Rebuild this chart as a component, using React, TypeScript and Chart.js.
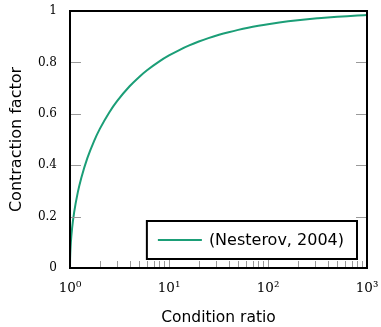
import React, { useEffect, useRef } from "react";
import { Chart, registerables } from "chart.js";

Chart.register(...registerables);

// Data
const conditionRatio = [1, 1.002, 1.005, 1.01, 1.02, 1.05, 1.1, 1.2, 1.3, 1.5, 1.75, 2, 2.5, 3, 4, 5, 6, 8, 10, 13, 16, 20, 25, 32, 40, 50, 63, 80, 100, 130, 160, 200, 250, 320, 400, 500, 630, 800, 1000];
const contractionFactor = [0, 0.0316, 0.05, 0.0704, 0.0993, 0.1552, 0.2157, 0.2952, 0.3506, 0.4284, 0.494, 0.5412, 0.6063, 0.6501, 0.7071, 0.7435, 0.7693, 0.804, 0.8269, 0.8501, 0.866, 0.8811, 0.8944, 0.9073, 0.9175, 0.9266, 0.9349, 0.9424, 0.9487, 0.9551, 0.9597, 0.964, 0.9679, 0.9716, 0.9747, 0.9774, 0.9799, 0.9822, 0.9841];
const seriesLabel = "(Nesterov, 2004)";

const xTickValues = [1, 10, 100, 1000];
const xTickLabels = ["10\u2070", "10\u00B9", "10\u00B2", "10\u00B3"];
const xMinorMultipliers = [2, 3, 4, 5, 6, 7, 8, 9];
const yTickValues = [0, 0.2, 0.4, 0.6, 0.8, 1];
const yTickLabels = ["0", "0.2", "0.4", "0.6", "0.8", "1"];

const LINE_COLOR = "#1b9e77";
const SERIF = "'DejaVu Serif', serif";
const SANS = "'DejaVu Sans', sans-serif";

const framePlugin = {
  id: "framePlugin",
  afterDatasetsDraw(chart: any) {
    const { ctx, chartArea } = chart;
    const { left, right, top, bottom } = chartArea;
    const xs = chart.scales.x;
    const ys = chart.scales.y;
    ctx.save();
    ctx.strokeStyle = "#9a9a9a";
    ctx.lineWidth = 1;
    ctx.beginPath();
    for (let d = 0; d < xTickValues.length - 1; d++) {
      for (const m of xMinorMultipliers) {
        const px = Math.round(xs.getPixelForValue(xTickValues[d] * m)) + 0.5;
        ctx.moveTo(px, bottom);
        ctx.lineTo(px, bottom - 7);
      }
    }
    for (let i = 1; i < xTickValues.length - 1; i++) {
      const px = Math.round(xs.getPixelForValue(xTickValues[i])) + 0.5;
      ctx.moveTo(px, bottom);
      ctx.lineTo(px, bottom - 10);
    }
    for (let i = 1; i < yTickValues.length - 1; i++) {
      const py = Math.round(ys.getPixelForValue(yTickValues[i])) + 0.5;
      ctx.moveTo(left, py);
      ctx.lineTo(left + 11, py);
      ctx.moveTo(right, py);
      ctx.lineTo(right - 11, py);
    }
    ctx.stroke();

    ctx.strokeStyle = "#000";
    ctx.lineWidth = 2;
    ctx.strokeRect(left, top, right - left, bottom - top);

    const ds = chart.data.datasets[0];
    ctx.font = `16px ${SANS}`;
    const tw = ctx.measureText(ds.label).width;
    const padL = 11, lineLen = 44, gap = 7, padR = 13;
    const boxW = padL + lineLen + gap + tw + padR;
    const boxH = 38;
    const bx = right - 10 - boxW;
    const by = bottom - 9 - boxH;
    ctx.fillStyle = "#fff";
    ctx.fillRect(bx, by, boxW, boxH);
    ctx.strokeStyle = "#000";
    ctx.lineWidth = 2;
    ctx.strokeRect(bx, by, boxW, boxH);
    const cy = by + boxH / 2;
    ctx.strokeStyle = ds.borderColor;
    ctx.lineWidth = 2;
    ctx.beginPath();
    ctx.moveTo(bx + padL, cy);
    ctx.lineTo(bx + padL + lineLen, cy);
    ctx.stroke();
    ctx.fillStyle = "#000";
    ctx.textBaseline = "middle";
    ctx.textAlign = "left";
    ctx.fillText(ds.label, bx + padL + lineLen + gap, cy + 1);
    ctx.restore();
  },
};

export default function App() {
  const canvasRef = useRef<HTMLCanvasElement | null>(null);

  useEffect(() => {
    document.body.style.margin = "0";
    const canvas = canvasRef.current;
    if (!canvas) return;
    const chart = new Chart(canvas, {
      type: "line",
      data: {
        datasets: [
          {
            label: seriesLabel,
            data: conditionRatio.map((x, i) => ({ x, y: contractionFactor[i] })),
            borderColor: LINE_COLOR,
            backgroundColor: LINE_COLOR,
            borderWidth: 2,
            pointRadius: 0,
            cubicInterpolationMode: "monotone",
            fill: false,
          },
        ],
      },
      options: {
        animation: false,
        responsive: false,
        maintainAspectRatio: false,
        devicePixelRatio: 1,
        layout: { padding: { top: 11, right: 14, left: 0, bottom: 0 } },
        plugins: {
          legend: { display: false },
          tooltip: { enabled: false },
        },
        scales: {
          x: {
            type: "logarithmic",
            min: 1,
            max: 1000,
            grid: { display: false, drawTicks: false },
            border: { display: false },
            afterBuildTicks: (s: any) => {
              s.ticks = xTickValues.map((v) => ({ value: v }));
            },
            afterFit: (s: any) => {
              s.height = 59;
              s.paddingLeft = 0;
              s.paddingRight = 0;
            },
            ticks: {
              autoSkip: false,
              maxRotation: 0,
              padding: 12,
              color: "#000",
              font: { family: SERIF, size: 13.5 },
              callback: (v: any) => {
                const i = xTickValues.indexOf(Number(v));
                return i >= 0 ? xTickLabels[i] : "";
              },
            },
            title: {
              display: true,
              text: "Condition ratio",
              color: "#000",
              font: { family: SANS, size: 15.5 },
              padding: { top: 0, bottom: 0 },
            },
          },
          y: {
            type: "linear",
            min: 0,
            max: 1,
            grid: { display: false, drawTicks: false },
            border: { display: false },
            afterBuildTicks: (s: any) => {
              s.ticks = yTickValues.map((v) => ({ value: v }));
            },
            afterFit: (s: any) => {
              s.width = 70;
              s.paddingTop = 0;
              s.paddingBottom = 0;
            },
            ticks: {
              padding: 13,
              color: "#000",
              font: { family: SERIF, size: 12 },
              callback: (v: any) => {
                const i = yTickValues.findIndex((t) => Math.abs(t - Number(v)) < 1e-9);
                return i >= 0 ? yTickLabels[i] : "";
              },
            },
            title: {
              display: true,
              text: "Contraction factor",
              color: "#000",
              font: { family: SANS, size: 16 },
              padding: { top: 7, bottom: 0 },
            },
          },
        },
      },
      plugins: [framePlugin],
    });
    return () => chart.destroy();
  }, []);

  return (
    <div style={{ width: 381, height: 327, background: "#fff" }}>
      <canvas ref={canvasRef} width={381} height={327} style={{ display: "block" }} />
    </div>
  );
}
